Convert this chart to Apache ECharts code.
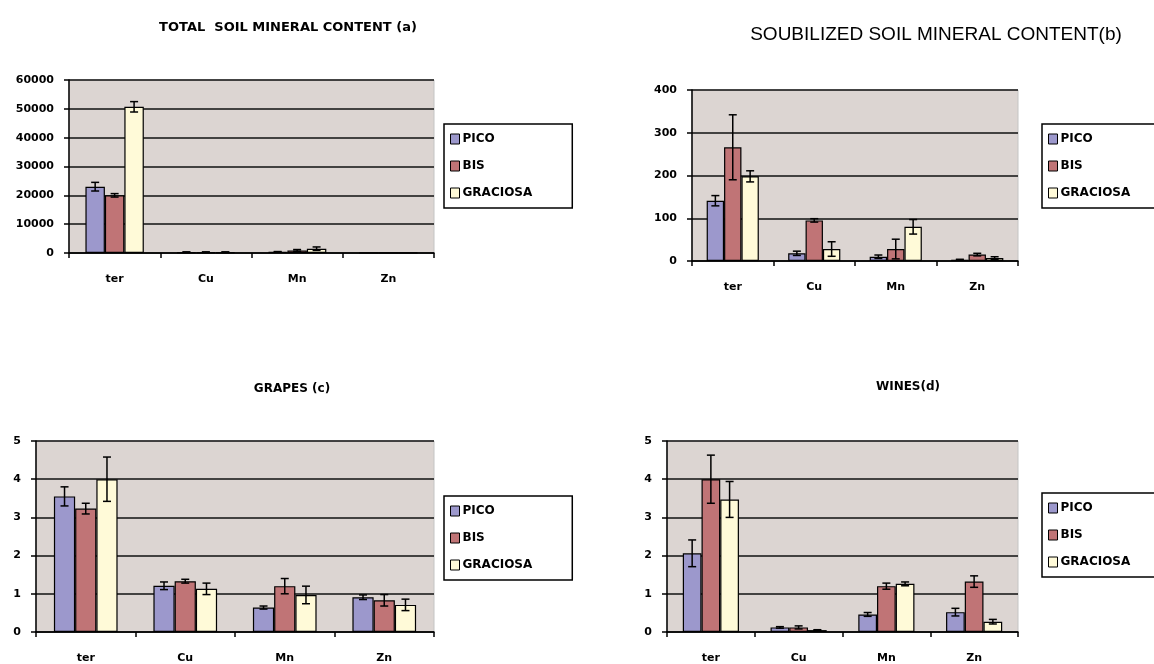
<!DOCTYPE html>
<html>
<head>
<meta charset="utf-8">
<script src="https://cdn.jsdelivr.net/npm/echarts@6/dist/echarts.min.js"></script>
<style>
  html, body { margin: 0; padding: 0; background: #fff; }
  #chart { width: 1154px; height: 664px; }
</style>
</head>
<body>
<div id="chart"></div>
<script>
// categories and series names
const minerals = ['ter', 'Cu', 'Mn', 'Zn'];
const islands = ['PICO', 'BIS', 'GRACIOSA'];

// (a) total soil mineral content
const totalPico = [23000, 300, 400, 50];
const totalPicoErr = [1500, 100, 100, 0];
const totalBis = [20000, 300, 900, 50];
const totalBisErr = [600, 100, 300, 0];
const totalGrac = [50700, 300, 1500, 50];
const totalGracErr = [1800, 100, 600, 0];

// (b) solubilized soil mineral content
const solPico = [141, 18, 10, 3];
const solPicoErr = [12, 5, 4, 1];
const solBis = [266, 95, 28, 15];
const solBisErr = [76, 4, 23, 3];
const solGrac = [198, 28, 80, 7];
const solGracErr = [13, 17, 17, 3];

// (c) grapes
const grapePico = [3.55, 1.21, 0.64, 0.91];
const grapePicoErr = [0.25, 0.1, 0.04, 0.06];
const grapeBis = [3.23, 1.33, 1.2, 0.83];
const grapeBisErr = [0.14, 0.05, 0.2, 0.15];
const grapeGrac = [4.0, 1.13, 0.97, 0.71];
const grapeGracErr = [0.58, 0.15, 0.23, 0.15];

// (d) wines
const winePico = [2.06, 0.12, 0.46, 0.52];
const winePicoErr = [0.35, 0.02, 0.05, 0.1];
const wineBis = [4.0, 0.12, 1.2, 1.32];
const wineBisErr = [0.63, 0.04, 0.08, 0.15];
const wineGrac = [3.47, 0.05, 1.26, 0.27];
const wineGracErr = [0.47, 0.01, 0.05, 0.06];

const colors = ['#9C98CC', '#C07476', '#FFFAD8'];
const CAT_GAP = 0.36;
const FONT = '"DejaVu Sans", Arial, sans-serif';

const panels = [
  { title: 'TOTAL  SOIL MINERAL CONTENT (a)', max: 60000, interval: 10000,
    vals: [totalPico, totalBis, totalGrac], errs: [totalPicoErr, totalBisErr, totalGracErr],
    grid: { left: 69, top: 80, width: 365, height: 173 },
    titlePos: { left: 283, top: 16 },
    titleStyle: { fontSize: 13, fontWeight: 'bold', fontFamily: FONT },
    legendPos: { left: 444, top: 124 } },
  { title: 'SOUBILIZED SOIL MINERAL CONTENT(b)', max: 400, interval: 100,
    vals: [solPico, solBis, solGrac], errs: [solPicoErr, solBisErr, solGracErr],
    grid: { left: 692, top: 90, width: 326, height: 171 },
    titlePos: { left: 931, top: 20 },
    titleStyle: { fontSize: 19, fontWeight: 'normal', fontFamily: '"Liberation Sans", Arial, sans-serif' },
    legendPos: { left: 1042, top: 124 } },
  { title: 'GRAPES (c)', max: 5, interval: 1,
    vals: [grapePico, grapeBis, grapeGrac], errs: [grapePicoErr, grapeBisErr, grapeGracErr],
    grid: { left: 36, top: 441, width: 398, height: 193 },
    titlePos: { left: 287, top: 378 },
    titleStyle: { fontSize: 12, fontWeight: 'bold', fontFamily: FONT },
    legendPos: { left: 444, top: 496 } },
  { title: 'WINES(d)', max: 5, interval: 1,
    vals: [winePico, wineBis, wineGrac], errs: [winePicoErr, wineBisErr, wineGracErr],
    grid: { left: 667, top: 441, width: 351, height: 193 },
    titlePos: { left: 903, top: 376 },
    titleStyle: { fontSize: 12, fontWeight: 'bold', fontFamily: FONT },
    legendPos: { left: 1042, top: 493 } },
];

const chart = echarts.init(document.getElementById('chart'));

const title = [], grid = [], xAxis = [], yAxis = [], legend = [], series = [];

panels.forEach((p, gi) => {
  title.push({
    text: p.title, left: p.titlePos.left, top: p.titlePos.top, textAlign: 'center',
    textStyle: Object.assign({ color: '#000' }, p.titleStyle),
  });
  grid.push(Object.assign({
    show: true, backgroundColor: '#DCD5D2', borderColor: '#c4c4c4', borderWidth: 1,
  }, p.grid));
  xAxis.push({
    type: 'category', gridIndex: gi, data: minerals,
    axisLine: { lineStyle: { color: '#000', width: 1.5 } },
    axisTick: { show: true, length: 5, lineStyle: { color: '#000', width: 1.5 } },
    axisLabel: { color: '#000', fontFamily: FONT, fontSize: 11, fontWeight: 'bold', margin: 21 },
  });
  yAxis.push({
    type: 'value', gridIndex: gi, min: 0, max: p.max, interval: p.interval,
    axisLine: { show: true, lineStyle: { color: '#000', width: 1.5 } },
    axisTick: { show: true, length: 5, lineStyle: { color: '#000', width: 1.5 } },
    axisLabel: { color: '#000', fontFamily: FONT, fontSize: 11, fontWeight: 'bold', margin: 15,
      formatter: (v) => String(v) },
    splitLine: { show: true, lineStyle: { color: '#111', width: 1.5 } },
  });
  legend.push({
    orient: 'vertical', left: p.legendPos.left, top: p.legendPos.top,
    data: islands, icon: 'rect', itemWidth: 9, itemHeight: 10, itemGap: 15,
    padding: [9, 40, 9, 6], backgroundColor: '#fff', borderColor: '#000', borderWidth: 1.5,
    itemStyle: { borderColor: '#000', borderWidth: 1 },
    textStyle: { color: '#000', fontFamily: FONT, fontSize: 12, fontWeight: 'bold', padding: [0, 0, 0, -2] },
    selectedMode: false,
  });

  islands.forEach((name, k) => {
    series.push({
      name, type: 'bar', xAxisIndex: gi, yAxisIndex: gi,
      data: p.vals[k], barGap: '0%', barCategoryGap: CAT_GAP * 100 + '%',
      itemStyle: { color: colors[k], borderColor: '#000', borderWidth: 1.2 },
      silent: true,
    });
  });

  islands.forEach((name, k) => {
    const data = p.vals[k].map((v, i) => [i, v, p.errs[k][i]]);
    series.push({
      type: 'custom', xAxisIndex: gi, yAxisIndex: gi, silent: true, z: 5,
      encode: { x: 0, y: 1 },
      data,
      renderItem: (params, api) => {
        const idx = api.value(0), v = api.value(1), e = api.value(2);
        if (!e) return null;
        const band = api.size([1, 0])[0];
        const bw = band * (1 - CAT_GAP) / 3;
        const c = api.coord([idx, v]);
        const x = c[0] + (k - 1) * bw;
        const yt = api.coord([idx, v + e])[1];
        const yb = api.coord([idx, Math.max(0, v - e)])[1];
        const cap = 4;
        const st = { stroke: '#000', lineWidth: 1.5 };
        return {
          type: 'group',
          children: [
            { type: 'line', shape: { x1: x, y1: yt, x2: x, y2: yb }, style: st },
            { type: 'line', shape: { x1: x - cap, y1: yt, x2: x + cap, y2: yt }, style: st },
            { type: 'line', shape: { x1: x - cap, y1: yb, x2: x + cap, y2: yb }, style: st },
          ],
        };
      },
    });
  });
});

chart.setOption({ animation: false, title, grid, xAxis, yAxis, legend, series });
</script>
</body>
</html>
